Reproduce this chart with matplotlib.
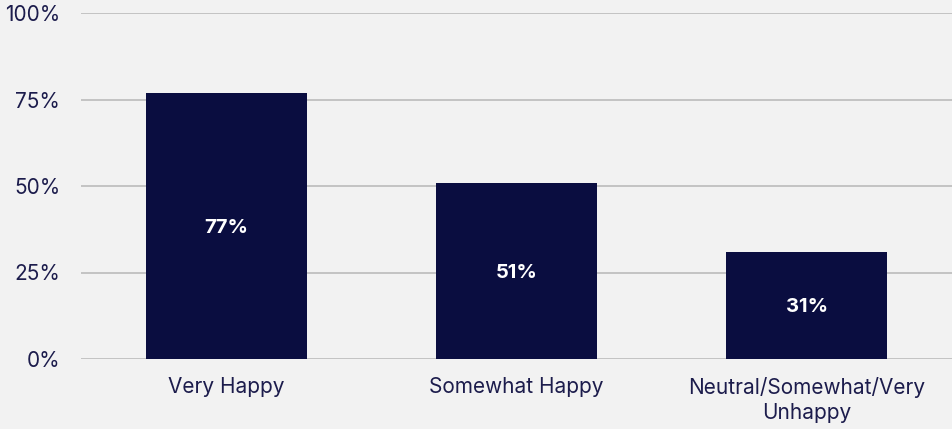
import matplotlib
matplotlib.use("Agg")
import matplotlib.pyplot as plt
from matplotlib.ticker import FuncFormatter

categories = ["Very Happy", "Somewhat Happy", "Neutral/Somewhat/Very\nUnhappy"]
values = [77, 51, 31]
yticks = [0, 25, 50, 75, 100]

BG = "#f2f2f2"
BAR = "#0a0d40"
TXT = "#1c1c4c"

plt.rcParams["font.family"] = ["Inter", "DejaVu Sans"]

fig = plt.figure(figsize=(9.52, 4.29), dpi=100, facecolor=BG)
ax = fig.add_axes([81 / 952, 70 / 429, 871 / 952, 346 / 429])
ax.set_facecolor(BG)

x = list(range(len(categories)))
bars = ax.bar(x, values, width=0.555, color=BAR, zorder=3)
for b, v in zip(bars, values):
    ax.text(b.get_x() + b.get_width() / 2, v / 2 - 0.6, f"{v}%", ha="center", va="center",
            color="white", fontsize=14.5, fontweight="bold", zorder=4)

ax.set_xlim(-0.5, 2.5)
ax.set_ylim(0, 100)
ax.set_yticks(yticks)
ax.yaxis.set_major_formatter(FuncFormatter(lambda v, p: f"{int(v)}%"))
ax.set_xticks(x)
ax.set_xticklabels(categories, linespacing=1.3)
ax.tick_params(axis="both", length=0, labelsize=15, colors=TXT)
ax.tick_params(axis="y", pad=15)
ax.tick_params(axis="x", pad=13)
ax.grid(axis="y", color="#c0c0c0", linewidth=1.3, zorder=0)
ax.set_axisbelow(True)
for s in ax.spines.values():
    s.set_visible(False)

fig.savefig("out.png", dpi=100, facecolor=BG)
